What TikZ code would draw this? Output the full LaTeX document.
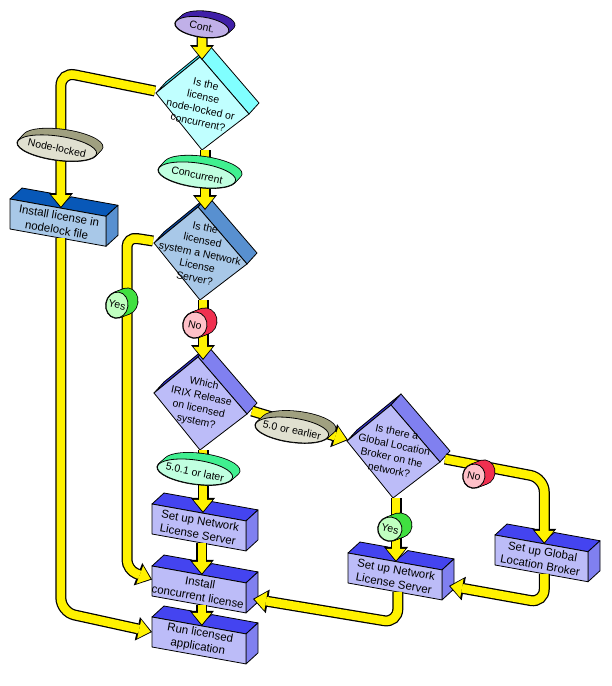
\documentclass[tikz,border=0pt]{standalone}
\usepackage{fontspec}
\setmainfont{Liberation Sans}
\usepackage{tikz}
\usepackage{xcolor}
\usetikzlibrary{arrows.meta,calc}

\definecolor{cyanface}{HTML}{C0FFFF}
\definecolor{cyanside}{HTML}{80FFFF}
\definecolor{cyanrim}{HTML}{40E0F0}
\definecolor{steelface}{HTML}{A8C8E8}
\definecolor{steelside}{HTML}{5890D0}
\definecolor{steelrim}{HTML}{0848A8}
\definecolor{steeltop}{HTML}{0858B8}
\definecolor{violetface}{HTML}{BCBCF8}
\definecolor{violetside}{HTML}{8080F0}
\definecolor{violetrim}{HTML}{3030D0}
\definecolor{violettop}{HTML}{4444F0}
\definecolor{contface}{HTML}{C0B0E8}
\definecolor{contedge}{HTML}{4020A8}
\definecolor{khakiface}{HTML}{E0E0D0}
\definecolor{khakiedge}{HTML}{A0A080}
\definecolor{mintface}{HTML}{C0FFE0}
\definecolor{mintedge}{HTML}{40F090}
\definecolor{yesface}{HTML}{C0FFC0}
\definecolor{yesedge}{HTML}{40E040}
\definecolor{noface}{HTML}{FFC0C8}
\definecolor{noedge}{HTML}{F03050}

\pgfdeclarelayer{pipes}
\pgfdeclarelayer{labels}
\pgfsetlayers{main,pipes,labels}

\tikzset{
    shapeline/.style={draw=black, line width=0.8pt, line join=round},
    qtext/.style={align=center, inner sep=0pt, rotate=-12, font=\fontsize{10.5}{13}\selectfont},
    btext/.style={align=center, inner sep=0pt, rotate=-10, font=\fontsize{11.5}{14}\selectfont},
    ltext/.style={inner sep=0pt, rotate=-12, font=\fontsize{10.5}{12}\selectfont},
    pipeout/.style={line width=11pt, black, rounded corners=14pt,
        -{Triangle[width=24pt,length=15pt,line width=0pt]}},
    pipein/.style={line width=8.5pt, yellow, rounded corners=14pt, shorten >=1.6pt,
        -{Triangle[width=19pt,length=11.5pt,line width=0pt]}}
}

% decision: name, bottom corner, colour scheme, text
\newcommand{\drawDiamond}[4]{
    \coordinate (#1-bottom) at #2;
    \coordinate (#1-left) at ($(#1-bottom)+(-46,-57)$);
    \coordinate (#1-top) at ($(#1-bottom)+(-2,-93)$);
    \coordinate (#1-right) at ($(#1-bottom)+(47,-36)$);
    \coordinate (#1-in) at ($(#1-top)+(4,3)$);
    \coordinate (#1-out) at ($(#1-bottom)+(3,0)$);
    \filldraw[shapeline, fill=#3rim] (#1-left) -- ++(10,-11) -- ($(#1-top)+(10,-11)$) -- (#1-top) -- cycle;
    \filldraw[shapeline, fill=#3side] (#1-top) -- ++(10,-11) -- ($(#1-right)+(10,-11)$) -- (#1-right) -- cycle;
    \filldraw[shapeline, fill=#3face] (#1-left) -- (#1-top) -- (#1-right) -- (#1-bottom) -- cycle;
    \node[qtext] (#1) at ($(#1-bottom)+(0,-47)$) {#4};
}

% step: name, front top-left corner, width, colour scheme, text
\newcommand{\drawBox}[5]{
    \coordinate (#1-tl) at #2;
    \coordinate (#1-tr) at ($(#1-tl)+(#3,0.18*#3)$);
    \coordinate (#1-bl) at ($(#1-tl)+(0,30)$);
    \coordinate (#1-br) at ($(#1-tr)+(0,30)$);
    \coordinate (#1-in) at ($(#1-tl)!0.53!(#1-tr)$);
    \coordinate (#1-out) at ($(#1-bl)!0.53!(#1-br)$);
    \filldraw[shapeline, fill=#4top] (#1-tl) -- ++(12,-11) -- ($(#1-in)+(-10,-15)$) -- ($(#1-in)+(0,-3)$)
        -- ($(#1-in)+(10,-11.4)$) -- ($(#1-tr)+(12,-11)$) -- (#1-tr) -- cycle;
    \filldraw[shapeline, fill=#4side] (#1-tr) -- ++(12,-11) -- ($(#1-br)+(12,-11)$) -- (#1-br) -- cycle;
    \filldraw[shapeline, fill=#4face] (#1-tl) -- (#1-tr) -- (#1-br) -- (#1-bl) -- cycle;
    \node[btext] (#1) at ($(#1-tl)!0.5!(#1-br)$) {#5};
}

% label disc: name, centre, x radius, y radius, depth, colour scheme, text
\newcommand{\drawLabel}[7]{
    \begin{pgfonlayer}{labels}
    \foreach \s in {0,0.2,0.4,0.6,0.8,1}
        \draw[black, line width=1.6pt, rotate around={-8:#2}] ($#2+\s*#5$) ellipse [x radius=#3pt, y radius=#4pt];
    \foreach \s in {0,0.2,0.4,0.6,0.8,1}
        \fill[#6edge, rotate around={-8:#2}] ($#2+\s*#5$) ellipse [x radius=#3pt, y radius=#4pt];
    \filldraw[shapeline, fill=#6face, rotate around={-8:#2}] #2 ellipse [x radius=#3pt, y radius=#4pt];
    \node[ltext] (#1) at #2 {#7};
    \end{pgfonlayer}
}

\newcommand{\pipe}[2][]{
    \begin{pgfonlayer}{pipes}
    \draw[pipeout,#1] #2;
    \draw[pipein,#1] #2;
    \end{pgfonlayer}
}

\begin{document}
\begin{tikzpicture}[x=1pt,y=-1pt]
    \useasboundingbox (0,0) rectangle (611,686);

    \drawDiamond{d1}{(202,150)}{cyan}{Is the\\license\\node-locked or\\concurrent?}
    \drawDiamond{d2}{(200,300)}{steel}{Is the\\licensed\\system a Network\\License\\Server?}
    \drawDiamond{d3}{(200,450)}{violet}{Which\\IRIX Release\\on licensed\\system?}
    \drawDiamond{d4}{(393,498)}{violet}{Is there a\\Global Location\\Broker on the\\network?}

    \drawBox{b1}{(10,199)}{96}{steel}{Install license in\\nodelock file}
    \drawBox{b2}{(152,504)}{94}{violet}{Set up Network\\License Server}
    \drawBox{b3}{(152,566)}{94}{violet}{Install\\concurrent license}
    \drawBox{b4}{(152,617)}{94}{violet}{Run licensed\\application}
    \drawBox{b5}{(348,553)}{94}{violet}{Set up Network\\License Server}
    \drawBox{b6}{(495,535)}{93}{violet}{Set up Global\\Location Broker}

    \drawLabel{cont}{(202,27)}{27}{10}{(5,-6)}{cont}{Cont.}
    \drawLabel{nodelocked}{(57,148)}{40}{12}{(5,-7)}{khaki}{Node-locked}
    \drawLabel{concurrent}{(197,175)}{39}{12}{(5,-7)}{mint}{Concurrent}
    \drawLabel{yesA}{(117,305)}{11}{13}{(9,-5)}{yes}{Yes}
    \drawLabel{noA}{(195,325)}{12}{13}{(9,-5)}{no}{No}
    \drawLabel{earlier}{(292,430)}{37}{12}{(6,-7)}{khaki}{5.0 or earlier}
    \drawLabel{later}{(195,472)}{38}{12}{(6,-7)}{mint}{5.0.1 or later}
    \drawLabel{yesB}{(390,529)}{12}{12}{(9,-5)}{yes}{Yes}
    \drawLabel{noB}{(474,476)}{11}{12}{(9,-5)}{no}{No}

    % flow
    \pipe{(cont) -- (cont |- d1-in)}
    \pipe{($(d1-left)+(-1,-2)$) -- (b1-in |- 0,72) -- (b1-in)}
    \pipe{(d1-out) -- (d1-out |- d2-in)}
    \pipe[rounded corners=10pt]{($(d2-left)+(-1,-2)$) -- (127,237) -- (127,570) -- ($(b3-tl)!0.45!(b3-bl)$)}
    \pipe{(d2-out) -- (d2-out |- d3-in)}
    \pipe{($(d3-right)+(5,-3)$) -- ($(d4-left)+(1,-1)$)}
    \pipe{(d3-out) -- (d3-out |- b2-in)}
    \pipe{(b2-out) -- (b2-out |- b3-in)}
    \pipe{(b3-out) -- (b3-out |- b4-in)}
    \pipe{(d4-out) -- (d4-out |- b5-in)}
    \pipe{($(d4-right)+(5,-3)$) -- (b6-in |- 0,478) -- (b6-in)}
    \pipe{(b6-out) -- (b6-out |- 0,603) -- ($(b5-br)+(7,-14)$)}
    \pipe{(b5-out) -- (b5-out |- 0,623) -- ($(b3-br)+(7,-14)$)}
    \pipe{(b1-out) -- (b1-out |- 0,612) -- ($(b4-tl)!0.5!(b4-bl)$)}
\end{tikzpicture}
\end{document}
